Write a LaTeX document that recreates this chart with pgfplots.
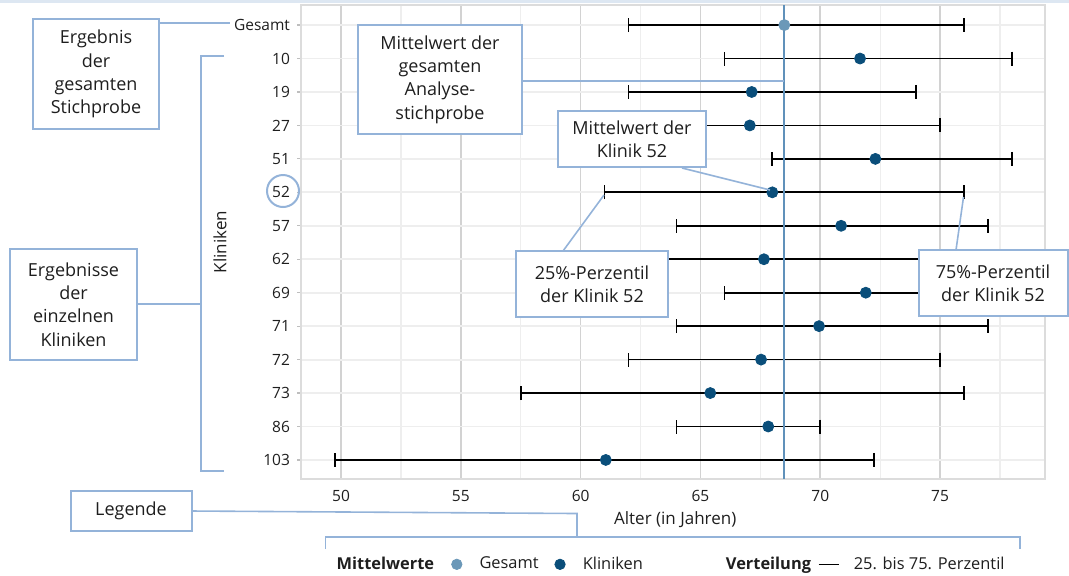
\documentclass[border=0pt]{standalone}
\usepackage{fontspec}
\setmainfont{Open Sans}
\usepackage{pgfplots}
\usepackage{pgfplotstable}
\pgfplotsset{compat=1.18}
\definecolor{annot}{RGB}{148,179,217}
\definecolor{meanc}{RGB}{96,145,186}
\definecolor{gesc}{RGB}{107,152,184}
\definecolor{klinc}{RGB}{10,78,122}
\definecolor{strip}{RGB}{221,231,242}
\definecolor{gridmaj}{RGB}{210,210,210}
\definecolor{gridmin}{RGB}{238,238,238}
\definecolor{axisc}{RGB}{220,220,220}
\definecolor{tickc}{RGB}{190,190,190}
\definecolor{txt}{RGB}{30,30,30}

\pgfplotstableread{
pos mean lo hi
0 68.5 62 76
}\gesamt
\pgfplotstableread{
pos mean lo hi
1 71.66 66 78
2 67.14 62 74
3 67.06 64 75
4 72.30 68 78
5 68.00 61 76
6 70.87 64 77
7 67.65 63 76
8 71.90 66 76
9 69.95 64 77
10 67.53 62 75
11 65.41 57.5 76
12 67.83 64 70
13 61.05 49.75 72.23
}\kliniken

\newcommand{\boxfont}{\fontsize{9}{11.65}\selectfont}
\begin{document}
\begin{tikzpicture}
\useasboundingbox (0,0) rectangle (534.5pt,-287.5pt);
\fill[strip] (0,0) rectangle (534.5pt,-1.6pt);
\begin{axis}[
  at={(150.5pt,-2.5pt)}, anchor=north west,
  scale only axis, width=372pt, height=237pt,
  xmin=48.33, xmax=79.38,
  ymin=-0.6, ymax=13.57, y dir=reverse,
  xtick={50,55,60,65,70,75},
  minor xtick={47.5,52.5,57.5,62.5,67.5,72.5,77.5},
  ytick={0,...,13},
  yticklabels={Gesamt,10,19,27,51,52,57,62,69,71,72,73,86,103},
  ytick pos=left,
  /pgf/number format/assume math mode=true,
  tick label style={font=\fontsize{7.75}{9}\selectfont, text=txt},
  tick align=outside, major tick length=2pt,
  xtick style={draw=none},
  ytick style={draw=tickc, line width=0.6pt},
  xmajorgrids, xminorgrids, ymajorgrids,
  major x grid style={draw=gridmaj, line width=0.8pt},
  minor x grid style={draw=gridmin, line width=0.6pt},
  major y grid style={draw=gridmin, line width=0.9pt},
  axis line style={draw=axisc, line width=0.75pt},
  xlabel={Alter (in Jahren)},
  xlabel style={at={(axis description cs:0.503,-0.0865)}, anchor=center, font=\fontsize{8.5}{10}\selectfont, text=txt},
  ylabel={Kliniken},
  ylabel style={at={(axis description cs:-0.1089,0.5)}, anchor=center, rotate=0, font=\fontsize{8.5}{10}\selectfont, text=txt},
  clip=false,
  legend columns=-1,
  legend cell align=left,
  legend style={at={(axis description cs:0.048,-0.180)}, anchor=west, draw=none, fill=none,
    inner sep=0pt, outer sep=0pt, column sep=0pt, nodes={inner sep=0pt},
    font=\fontsize{8.2}{10}\selectfont, text=txt},
]
% 25.-75. percentile whiskers
\addplot[forget plot, draw=none, mark=none,
  error bars/.cd, x dir=both, x explicit, error mark=|,
  error bar style={draw=black, line width=0.85pt},
  error mark options={draw=black, mark size=3.5pt, line width=0.85pt}]
  table[x=mean, y=pos, x error plus expr=\thisrow{hi}-\thisrow{mean}, x error minus expr=\thisrow{mean}-\thisrow{lo}] {\gesamt};
\addplot[forget plot, draw=none, mark=none,
  error bars/.cd, x dir=both, x explicit, error mark=|,
  error bar style={draw=black, line width=0.85pt},
  error mark options={draw=black, mark size=3.5pt, line width=0.85pt}]
  table[x=mean, y=pos, x error plus expr=\thisrow{hi}-\thisrow{mean}, x error minus expr=\thisrow{mean}-\thisrow{lo}] {\kliniken};
% overall mean line
\addplot[forget plot, draw=meanc, line width=0.9pt, mark=none] coordinates {(68.5,-0.6) (68.5,13.57)};
% means
\addplot[forget plot, only marks, mark=*, mark size=2.75pt, draw=gesc, fill=gesc] table[x=mean, y=pos] {\gesamt};
\addplot[forget plot, only marks, mark=*, mark size=2.75pt, draw=klinc, fill=klinc] table[x=mean, y=pos] {\kliniken};
% legend
\addlegendimage{empty legend}
\addlegendentry{\textbf{Mittelwerte}}
\addlegendimage{legend image code/.code={\path (0pt,0pt) (22.3pt,0pt); \fill[gesc] (11.15pt,0pt) circle (2.6pt);}}
\addlegendentry{Gesamt}
\addlegendimage{legend image code/.code={\path (0pt,0pt) (21.7pt,0pt); \fill[klinc] (10.5pt,0pt) circle (2.6pt);}}
\addlegendentry{Kliniken\hspace*{41.5pt}}
\addlegendimage{empty legend}
\addlegendentry{\textbf{Verteilung}}
\addlegendimage{legend image code/.code={\path (0pt,0pt) (21pt,0pt); \draw[black, line width=0.75pt] (3.6pt,0pt) -- (13.6pt,0pt);}}
\addlegendentry{25. bis 75. Perzentil}
\end{axis}
\begin{scope}[x=0.5pt, y=-0.5pt]
\tikzset{abox/.style={draw=annot, line width=1pt, fill=white},
         aline/.style={draw=annot, line width=0.8pt}}
% Ergebnis der gesamten Stichprobe
\draw[aline] (159,23) -- (230,23);
\draw[abox] (33,19) rectangle (159,129);
\node[align=center, font=\boxfont, text=txt] at (96,74) {Ergebnis\\der\\gesamten\\Stichprobe};
% Ergebnisse der einzelnen Kliniken
\draw[aline] (224,56) -- (201,56) -- (201,471) -- (224,471);
\draw[aline] (137,304) -- (201,304);
\draw[abox] (10,249) rectangle (137,360);
\node[align=center, font=\boxfont, text=txt] at (73.5,304.5) {Ergebnisse\\der\\einzelnen\\Kliniken};
% circle around 52
\draw[aline, line width=1pt] (283,191) circle (16);
% Mittelwert der gesamten Analysestichprobe
\draw[aline] (522,80.7) -- (784,80.7);
\draw[abox] (358,25) rectangle (522,134);
\node[align=center, font=\boxfont, text=txt] at (440,79.5) {Mittelwert der\\gesamten\\Analyse-\\stichprobe};
% Mittelwert der Klinik 52
\draw[aline] (682,168) -- (770,190);
\draw[abox] (558,111) rectangle (706,167);
\node[align=center, font=\boxfont, text=txt] at (632,139) {Mittelwert der\\Klinik 52};
% 25%-Perzentil
\draw[aline] (563,251) -- (604,195);
\draw[abox] (516,251) rectangle (668,317);
\node[align=center, font=\boxfont, text=txt] at (592,284) {25\%-Perzentil\\der Klinik 52};
% 75%-Perzentil
\draw[aline] (956,250) -- (963.5,197);
\draw[abox] (918.5,250) rectangle (1068,316);
\node[align=center, font=\boxfont, text=txt] at (993,283) {75\%-Perzentil\\der Klinik 52};
% Legende
\draw[aline] (191.5,511) -- (577,513.5) -- (577,537);
\draw[aline] (325.5,549) -- (325.5,537) -- (1020,537) -- (1020,549);
\draw[abox] (70.5,491) rectangle (191.5,531);
\node[align=center, font=\boxfont, text=txt] at (131,511) {Legende};
\end{scope}
\end{tikzpicture}
\end{document}
